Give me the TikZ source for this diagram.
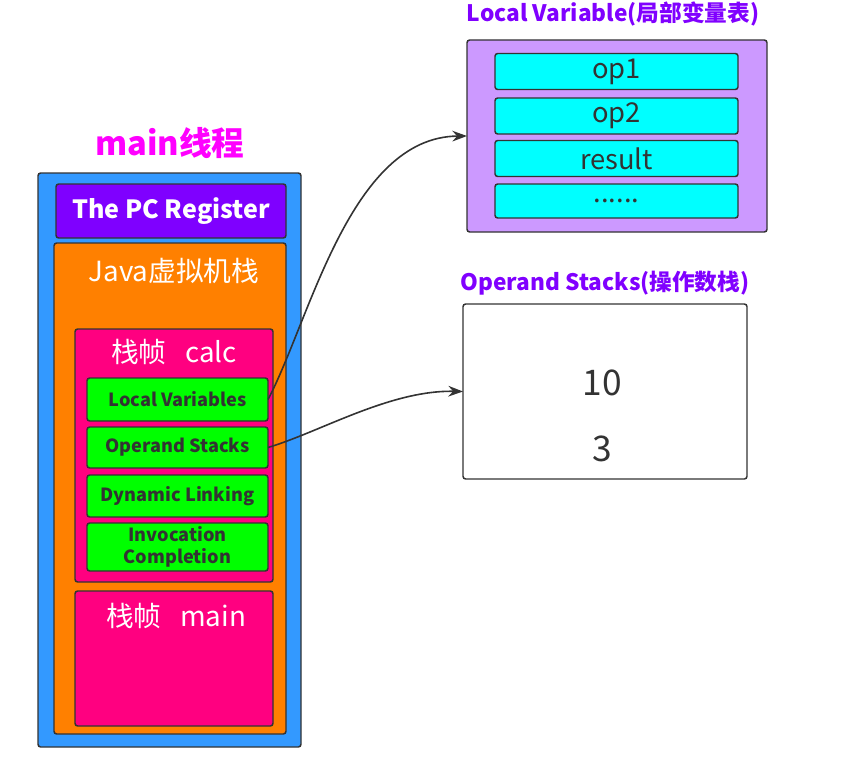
\documentclass[tikz,border=0pt]{standalone}
\usepackage{fontspec}
\setmainfont{Noto Sans CJK SC}
\usepackage{tikz}
\usetikzlibrary{arrows,arrows.meta,shapes,positioning}
\usepackage{xcolor}
\definecolor{jvblue}{RGB}{51,153,255}
\definecolor{jvpurple}{RGB}{127,0,255}
\definecolor{jvorange}{RGB}{255,128,0}
\definecolor{jvpink}{RGB}{255,0,128}
\definecolor{jvgreen}{RGB}{0,255,0}
\definecolor{jvlavender}{RGB}{204,153,255}
\definecolor{jvcyan}{RGB}{0,255,255}
\definecolor{jvmagenta}{RGB}{255,0,255}
\definecolor{jvtitle}{RGB}{128,0,255}
\definecolor{jvdark}{RGB}{51,51,51}
\tikzstyle{arrow} = [line width=1.2pt,-{Stealth[length=11pt,width=8pt]},color=jvdark]
\tikzstyle{box} = [rectangle, rounded corners=2pt, draw=jvdark, line width=1.1pt, inner sep=0pt, outer sep=0pt]
\tikzstyle{frame} = [box, minimum width=135.75pt, fill=jvgreen, text=jvdark, font=\bfseries\fontsize{13.6}{14}\selectfont, align=center]
\tikzstyle{slot} = [box, minimum width=182.25pt, minimum height=27pt, fill=jvcyan, text=jvdark, font=\fontsize{20.5}{22}\selectfont]
\tikzstyle{caption} = [text=white, font=\fontsize{20.8}{24}\selectfont]
\tikzstyle{heading} = [text=jvtitle, font=\bfseries\fontsize{17}{20}\selectfont]

\begin{document}
\begin{tikzpicture}[x=0.75pt,y=-0.75pt]
\useasboundingbox (0,0) rectangle (845,763);
% main thread
\node (title) [text=jvmagenta, font=\bfseries\fontsize{24.5}{28}\selectfont] at (170,143) {main线程};
\node (thread) [box, fill=jvblue, minimum width=197.25pt, minimum height=430.5pt] at (169.5,460) {};
\node (pc) [box, fill=jvpurple, minimum width=172.5pt, minimum height=40.5pt, text=white, font=\bfseries\fontsize{18.8}{22}\selectfont] at (171,211) {The PC Register};
\node (jvm) [box, fill=jvorange, minimum width=174pt, minimum height=368.25pt] at (170,488.5) {};
\node (jvmtext) [caption] at (174,271) {Java虚拟机栈};

% frame calc
\node (calc) [box, fill=jvpink, minimum width=148.5pt, minimum height=189.75pt] at (174,455.5) {};
\node (calctext) [caption] at (174,352) {栈帧~~~calc};
\node (lv) [frame, minimum height=32.25pt] at (177.5,399.5) {Local Variables};
\node (os) [frame, minimum height=30.75pt] at (177.5,447.5) {Operand Stacks};
\node (dl) [frame, minimum height=31.5pt] at (177.5,496) {Dynamic Linking};
\node (ic) [frame, minimum height=36pt, font=\bfseries\fontsize{13.6}{16.5}\selectfont] at (177.5,547) {Invocation\\Completion};

% frame main
\node (main) [box, fill=jvpink, minimum width=148.5pt, minimum height=101.25pt] at (174,658.5) {};
\node (maintext) [caption] at (176,616) {栈帧~~~main};

% local variable table
\node (lvtitle) [heading] at (613,14) {Local Variable(局部变量表)};
\node (lvt) [box, fill=jvlavender, minimum width=225pt, minimum height=144pt] at (617,136) {};
\node (op1) [slot] at (616.5,71.5) {op1};
\node (op2) [slot] at (616.5,116) {op2};
\node (res) [slot] at (616.5,158.5) {result};
\node (more) [slot, minimum height=25.5pt] at (616.5,201) {......};

% operand stack
\node (ostitle) [heading] at (605,283) {Operand Stacks(操作数栈)};
\node (ost) [box, fill=white, minimum width=213pt, minimum height=131.25pt] at (605,391.5) {};
\node (v10) [text=jvdark, font=\fontsize{26.5}{30}\selectfont] at (602,383) {10};
\node (v3) [text=jvdark, font=\fontsize{26.5}{30}\selectfont] at (602,449) {3};

% Connections
\draw[arrow] (lv.east) .. controls (310,320) and (350,137) .. (lvt.west);
\draw[arrow] (os.east) .. controls (320,432) and (390,390) .. (ost.west);
\end{tikzpicture}
\end{document}
